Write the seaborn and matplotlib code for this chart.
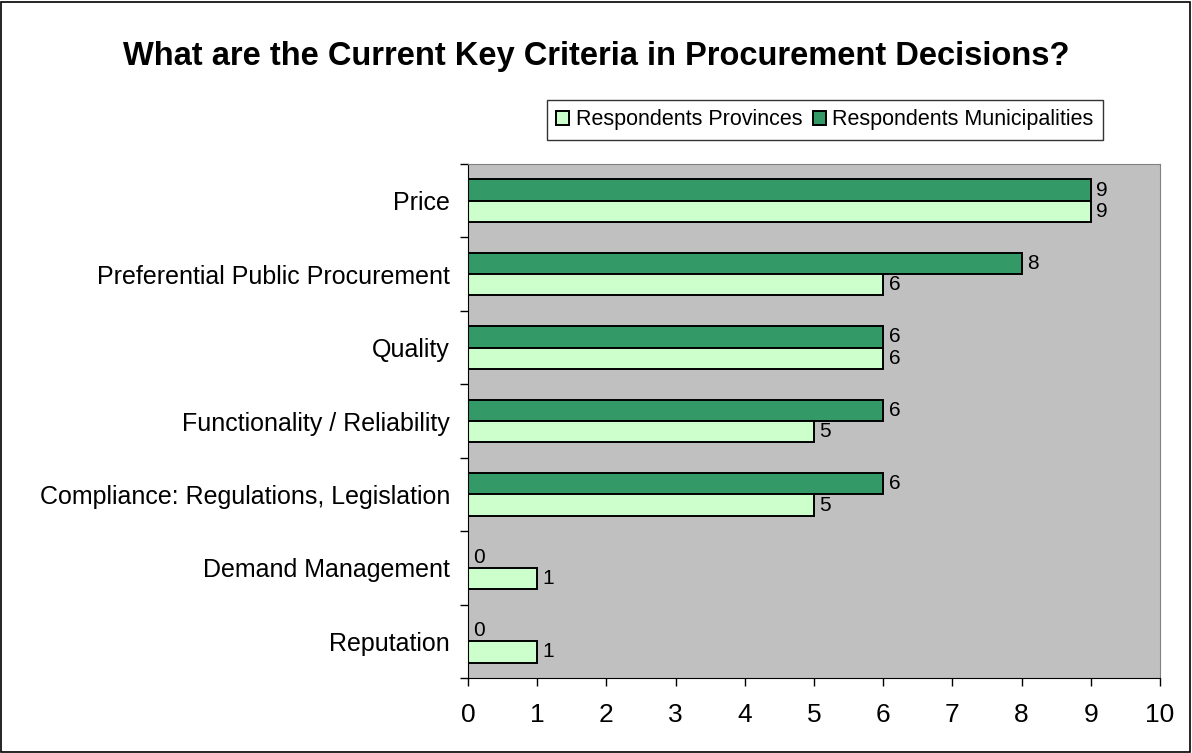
import pandas as pd
import seaborn as sns
import matplotlib.pyplot as plt
from matplotlib.patches import Rectangle

# chart values, top category first
criteria = [
    "Price",
    "Preferential Public Procurement",
    "Quality",
    "Functionality / Reliability",
    "Compliance: Regulations, Legislation",
    "Demand Management",
    "Reputation",
]
provinces = [9, 6, 6, 5, 5, 1, 1]
municipalities = [9, 8, 6, 6, 6, 0, 0]
series_names = ["Respondents Provinces", "Respondents Municipalities"]
x_ticks = list(range(0, 11))

df = pd.DataFrame({
    "criteria": criteria * 2,
    "value": provinces + municipalities,
    "series": [series_names[0]] * len(criteria) + [series_names[1]] * len(criteria),
})

sns.set_style("white")
plt.rcParams["font.family"] = ["Liberation Sans", "DejaVu Sans"]
plt.rcParams["text.color"] = "black"
plt.rcParams["xtick.color"] = "black"
plt.rcParams["ytick.color"] = "black"

fig = plt.figure(figsize=(11.92, 7.53), dpi=100)
fig.patches.append(Rectangle((0.001, 0.001), 0.997, 0.997, transform=fig.transFigure,
                             fill=False, edgecolor="black", linewidth=1.2))
ax = fig.add_axes([468 / 1192, 1 - 678 / 753, 692 / 1192, 514 / 753])
ax.set_facecolor("#C0C0C0")

palette = {series_names[0]: "#CCFFCC", series_names[1]: "#339966"}
sns.barplot(data=df, y="criteria", x="value", hue="series",
            hue_order=[series_names[1], series_names[0]], order=criteria,
            palette=palette, saturation=1, orient="h", width=0.58,
            edgecolor="black", linewidth=1.4, ax=ax)

for cont in ax.containers:
    ax.bar_label(cont, padding=4, fontsize=15, color="black")

ax.set_xlim(0, 10)
ax.set_ylim(len(criteria) - 0.5, -0.5)
ax.set_xticks(x_ticks)
ax.set_xlabel("")
ax.set_ylabel("")
ax.tick_params(axis="x", labelsize=19, length=6, width=1, direction="out",
               bottom=True, pad=12, color="black", labelcolor="black")
ax.tick_params(axis="y", which="major", labelsize=18, length=0, pad=13, labelcolor="black")
ax.set_yticks([i + 0.5 for i in range(-1, len(criteria))], minor=True)
ax.tick_params(axis="y", which="minor", length=6, width=1, direction="out", left=True, color="black")

for side in ["top", "right"]:
    ax.spines[side].set_color("#808080")
ax.spines["left"].set_color("black")
ax.spines["bottom"].set_color("black")

handles, labels = ax.get_legend_handles_labels()
order = [labels.index(n) for n in series_names]
ax.legend([handles[i] for i in order], [labels[i] for i in order],
          loc="center", bbox_to_anchor=(825 / 1192, 1 - 120 / 753),
          bbox_transform=fig.transFigure, ncol=2, fontsize=15.5, frameon=True,
          fancybox=False, edgecolor="black", handlelength=0.6, handleheight=0.6,
          handletextpad=0.3, columnspacing=0.5, borderpad=0.45)

fig.text(0.5, 1 - 57 / 753, "What are the Current Key Criteria in Procurement Decisions?",
         ha="center", va="center", fontsize=23.5, fontweight="bold", color="black")

fig.savefig("out.png", dpi=100)
